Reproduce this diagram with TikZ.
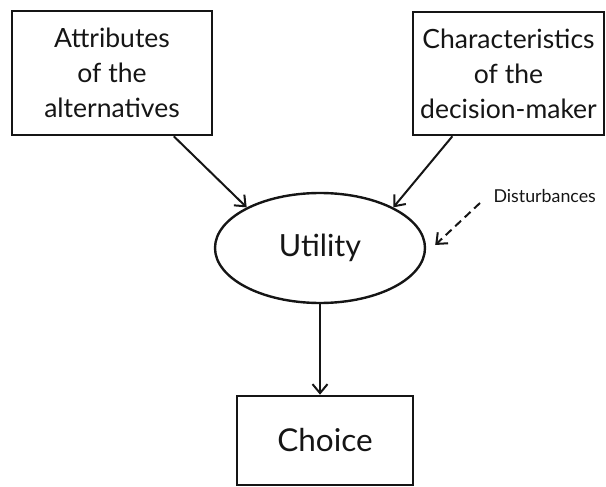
\documentclass[tikz,border=0pt]{standalone}
\usepackage{fontspec}
\setmainfont{Lato}
\usetikzlibrary{shapes.geometric,arrows.meta,calc}
\definecolor{ink}{HTML}{151515}
\begin{document}
\begin{tikzpicture}[x=1pt,y=-1pt,
  every node/.style={text=ink},
  factor/.style={draw=ink,line width=2.6pt,align=center,inner sep=0pt,
    font=\fontsize{26.5}{35}\selectfont},
  utilnode/.style={draw=ink,ellipse,line width=2.4pt,inner sep=0pt,
    minimum width=210pt,minimum height=110pt,font=\fontsize{30.5}{38}\selectfont},
  link/.style={draw=ink,line width=2pt,-{Straight Barb[length=9pt,width=15pt,line width=2pt]}},
  noise/.style={link,dash pattern=on 8pt off 5pt}
]
\useasboundingbox (0,0) rectangle (606,487);

% explanatory factors
\node[factor,minimum width=200pt,minimum height=124pt] (attr) at (112,73)
  {Attributes\\of the\\alternatives};
\node[factor,minimum width=191pt,minimum height=123pt] (char) at (508.5,73.5)
  {Characteristics\\of the\\decision-maker};

% latent utility and observed choice
\node[utilnode] (util) at (320,248) {Utility};
\node[factor,minimum width=176pt,minimum height=89pt,font=\fontsize{31.5}{38}\selectfont]
  (choice) at (325,440.5) {Choice};

% unobserved part
\node[anchor=west,font=\fontsize{17.8}{21}\selectfont] (dist) at (490,196) {Disturbances};
\coordinate (distfrom) at (480,203);
\coordinate (distto) at ($(util.east)+(9pt,3pt)$);

% causal links
\draw[link] ($(attr.south west)!0.805!(attr.south east)$) -- (util.151);
\draw[link] ($(char.south west)!0.21!(char.south east)$) -- (util.29);
\draw[link] (util.south) -- (util.south |- choice.north);
\draw[noise] (distfrom) -- (distto);
\end{tikzpicture}
\end{document}
